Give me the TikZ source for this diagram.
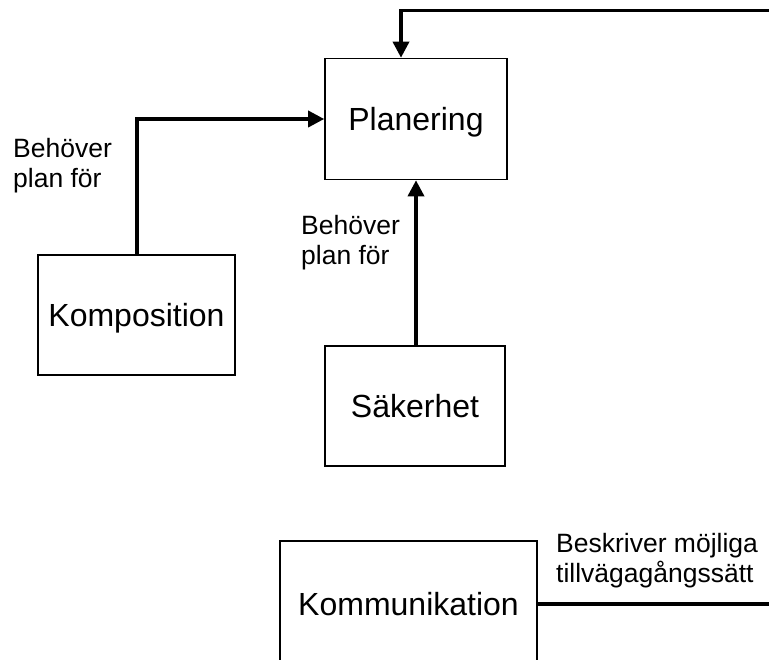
\documentclass[tikz,border=0pt]{standalone}
\usepackage{fontspec}
\setmainfont{Liberation Sans}
\usetikzlibrary{arrows.meta}
\begin{document}
\begin{tikzpicture}[x=1pt,y=-1pt,
  box/.style={draw, line width=1.6pt, rectangle, inner sep=0pt,
    font=\fontsize{32}{38}\selectfont, text height=22.9pt, text depth=0pt},
  conn/.style={line width=3.5pt},
  arr/.style={conn, -{Triangle[length=16pt,width=16pt]}},
  lbl/.style={font=\fontsize{26.5}{30}\selectfont, align=left, anchor=west, inner sep=0pt}]
\useasboundingbox (0,0) rectangle (769,660);
% boxes
\node[box, minimum width=182pt, minimum height=121pt] (plan) at (416,119) {Planering};
\node[box, minimum width=197pt, minimum height=120pt] (komp) at (136.5,315) {Komposition};
\node[box, minimum width=180pt, minimum height=120pt] (sak) at (415,406) {Säkerhet};
\node[box, minimum width=257pt, minimum height=126pt] (komm) at (408.5,604) {Kommunikation};
% free ends at the right margin
\coordinate (topend) at (769,10.5);
\coordinate (kommend) at (769,604);
% connectors
\draw[arr] (topend) -| (plan.north -| 401,0);
\draw[arr] (komp.north -| 137,0) |- (plan.west |- 0,119);
\draw[arr] (sak.north -| 416,0) -- (plan.south -| 416,0);
\draw[conn] (komm.east |- kommend) -- (kommend);
% labels
\node[lbl] (l1) at (13,165.5) {Behöver\\plan för};
\node[lbl] (l2) at (301,242.5) {Behöver\\plan för};
\node[lbl] (l3) at (556,560.5) {Beskriver möjliga\\tillvägagångssätt};
\end{tikzpicture}
\end{document}
